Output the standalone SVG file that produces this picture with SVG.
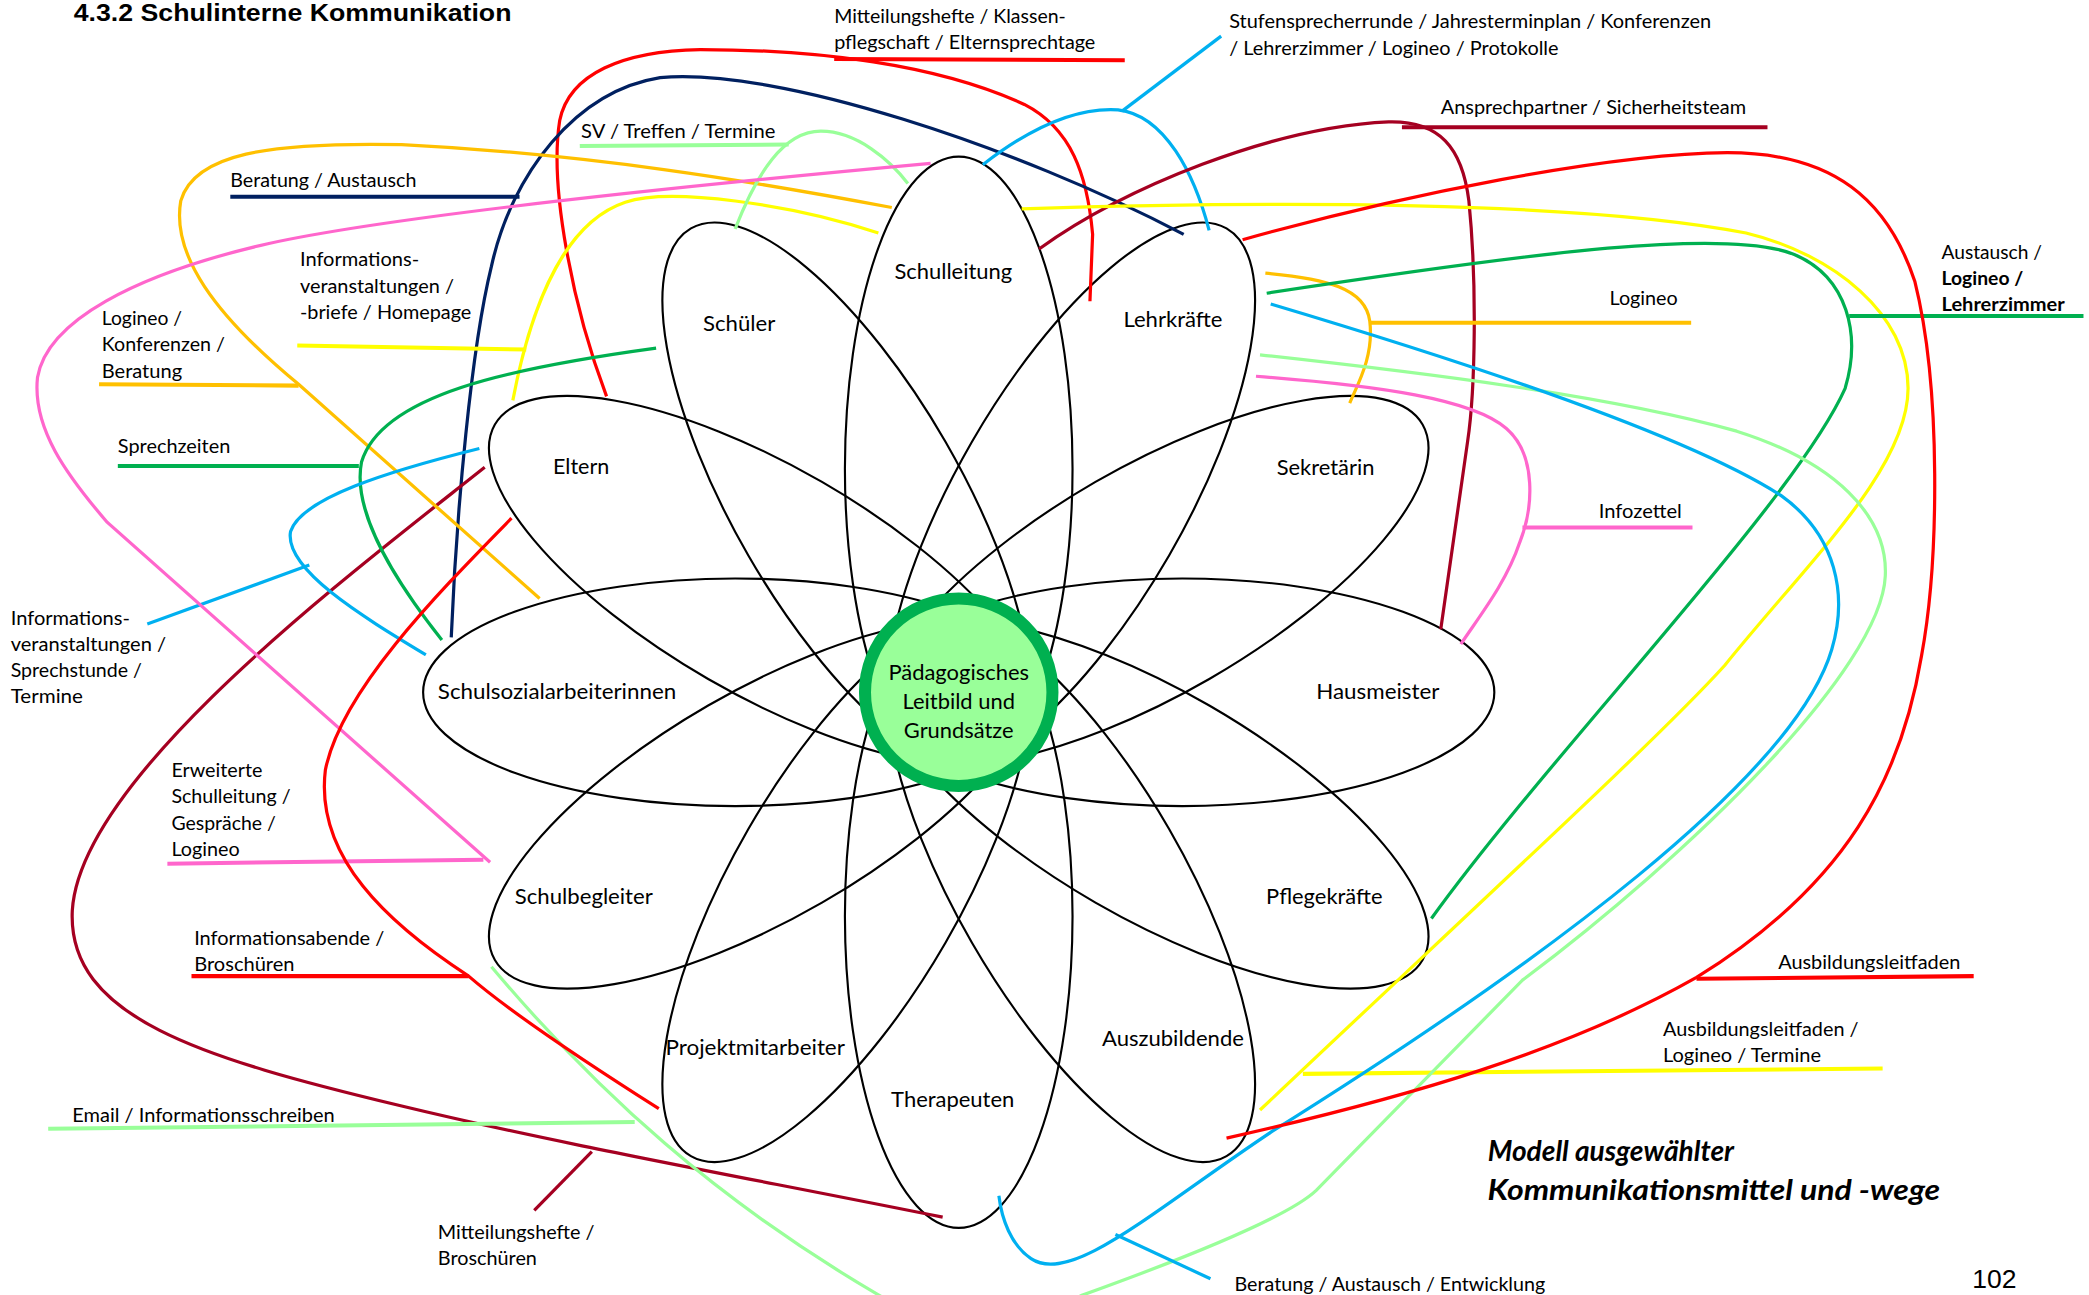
<svg xmlns="http://www.w3.org/2000/svg" width="2089" height="1295" viewBox="0 0 2089 1295">
<style>
.petal{fill:none;stroke:#000;stroke-width:1.6}
.pl{font-family:Lato,"Noto Sans",sans-serif;font-size:16.5px;fill:#000;text-anchor:middle}
.lb{font-family:Lato,"Noto Sans",sans-serif;font-size:14.5px;fill:#000}
.bold{font-weight:bold}
.c{fill:none;stroke-width:2.4}
.u{fill:none;stroke-width:3}
.red{stroke:#FF0000}
.navy{stroke:#002060}
.blue{stroke:#00B0F0}
.maroon{stroke:#A50021}
.orange{stroke:#FFC000}
.yellow{stroke:#FFFF00}
.green{stroke:#00B050}
.lgreen{stroke:#99FF99}
.pink{stroke:#FF66CC}
</style>
<rect width="2089" height="1295" fill="#ffffff"/>
<g transform="scale(1.339)">
<g id="petals">
<g id="node-schulleitung"><ellipse class="petal" cx="716" cy="350" rx="85" ry="233"/><text class="pl" x="712" y="208" textLength="88" lengthAdjust="spacingAndGlyphs">Schulleitung</text></g>
<g id="node-lehrkraefte"><ellipse class="petal" cx="716" cy="350" rx="85" ry="233" transform="rotate(30 716 517)"/><text class="pl" x="876" y="244" textLength="74" lengthAdjust="spacingAndGlyphs">Lehrkräfte</text></g>
<g id="node-sekretaerin"><ellipse class="petal" cx="716" cy="350" rx="85" ry="233" transform="rotate(60 716 517)"/><text class="pl" x="990" y="354.5" textLength="73" lengthAdjust="spacingAndGlyphs">Sekretärin</text></g>
<g id="node-hausmeister"><ellipse class="petal" cx="716" cy="350" rx="85" ry="233" transform="rotate(90 716 517)"/><text class="pl" x="1029" y="522" textLength="92" lengthAdjust="spacingAndGlyphs">Hausmeister</text></g>
<g id="node-pflegekraefte"><ellipse class="petal" cx="716" cy="350" rx="85" ry="233" transform="rotate(120 716 517)"/><text class="pl" x="989" y="675.5" textLength="87" lengthAdjust="spacingAndGlyphs">Pflegekräfte</text></g>
<g id="node-auszubildende"><ellipse class="petal" cx="716" cy="350" rx="85" ry="233" transform="rotate(150 716 517)"/><text class="pl" x="876" y="781" textLength="106" lengthAdjust="spacingAndGlyphs">Auszubildende</text></g>
<g id="node-therapeuten"><ellipse class="petal" cx="716" cy="350" rx="85" ry="233" transform="rotate(180 716 517)"/><text class="pl" x="711.5" y="827" textLength="92" lengthAdjust="spacingAndGlyphs">Therapeuten</text></g>
<g id="node-projektmitarbeiter"><ellipse class="petal" cx="716" cy="350" rx="85" ry="233" transform="rotate(210 716 517)"/><text class="pl" x="564" y="788" textLength="134" lengthAdjust="spacingAndGlyphs">Projektmitarbeiter</text></g>
<g id="node-schulbegleiter"><ellipse class="petal" cx="716" cy="350" rx="85" ry="233" transform="rotate(240 716 517)"/><text class="pl" x="436" y="675.5" textLength="103" lengthAdjust="spacingAndGlyphs">Schulbegleiter</text></g>
<g id="node-schulsozialarbeiterinnen"><ellipse class="petal" cx="716" cy="350" rx="85" ry="233" transform="rotate(270 716 517)"/><text class="pl" x="416" y="522" textLength="178" lengthAdjust="spacingAndGlyphs">Schulsozialarbeiterinnen</text></g>
<g id="node-eltern"><ellipse class="petal" cx="716" cy="350" rx="85" ry="233" transform="rotate(300 716 517)"/><text class="pl" x="434" y="354" textLength="42" lengthAdjust="spacingAndGlyphs">Eltern</text></g>
<g id="node-schueler"><ellipse class="petal" cx="716" cy="350" rx="85" ry="233" transform="rotate(330 716 517)"/><text class="pl" x="552" y="247.5" textLength="54" lengthAdjust="spacingAndGlyphs">Schüler</text></g>
</g>
<g id="connectors">
<path class="c red" d="M453,296 C428,230 410,140 418,90 C425,55 465,38 523,37 C610,37 700,48 765,78 C800,96 812,130 816,175 L814,225"/>
<path class="u red" d="M623,44 L840,45"/>
<path class="c navy" d="M337,476 C341,380 352,260 367,199 C382,130 430,68 493,58 C580,50 760,110 884,175"/>
<path class="u navy" d="M172,147 L388,147"/>
<path class="c blue" d="M734,123 C770,95 805,80 835,82 C870,86 892,130 903,172"/>
<path class="c blue" d="M838,83 L912,27"/>
<path class="c maroon" d="M776,186 C840,140 950,95 1037,91 C1075,90 1092,110 1097,150 C1103,210 1102,290 1096,330 L1076,470"/>
<path class="u maroon" d="M1047,95 L1320,95"/>
<path class="c maroon" d="M362,349 C260,430 60,580 54,680 C50,760 150,790 300,826 C420,855 560,880 704,909"/>
<path class="c maroon" d="M442,860 L399,904"/>
<path class="c orange" d="M666,155 C560,135 440,115 300,108 C200,106 145,115 135,150 C128,190 160,235 223,287 L403,447"/>
<path class="u orange" d="M74,287 L223,288"/>
<path class="c orange" d="M945,204 C990,208 1020,215 1023,240 C1026,265 1015,285 1008,301"/>
<path class="u orange" d="M1023,241 L1263,241"/>
<path class="c yellow" d="M383,299 C398,220 425,165 467,151 C500,140 590,152 656,174"/>
<path class="u yellow" d="M222,258 L393,261"/>
<path class="c yellow" d="M763,156 C950,150 1180,150 1304,174 C1370,190 1425,235 1425,290 C1425,350 1350,420 1288,497 C1240,550 1120,660 941,829"/>
<path class="u yellow" d="M973,802 L1406,798"/>
<path class="c green" d="M490,260 C380,275 285,295 270,345 C262,385 300,440 330,478"/>
<path class="u green" d="M88,348 L268,348"/>
<path class="c green" d="M946,219 C1150,188 1290,170 1340,190 C1380,207 1390,250 1378,290 C1340,375 1160,560 1069,686"/>
<path class="u green" d="M1381,236 L1556,236"/>
<path class="c lgreen" d="M549,171 C565,130 585,98 613,98 C640,98 665,120 678,137"/>
<path class="u lgreen" d="M433,109 L589,108"/>
<path class="c lgreen" d="M941,265 C1060,278 1200,295 1297,322 C1370,345 1410,385 1408,430 C1405,500 1260,640 1137,732 L983,889 C960,911 870,945 809,967 C769,985 696,991 656,967 C536,897 447,817 367,722"/>
<path class="u lgreen" d="M36,843 L474,838"/>
<path class="c blue" d="M358,335 C290,352 225,372 217,397 C212,425 270,460 318,489"/>
<path class="c blue" d="M110,466 L231,422"/>
<path class="c blue" d="M949,227 C1100,272 1260,325 1330,370 C1372,400 1380,445 1368,485 C1340,580 1150,720 950,845 C860,905 800,960 770,940 C755,930 748,910 746,893"/>
<path class="c blue" d="M833,922 L904,955"/>
<path class="c pink" d="M695,122 C520,138 300,160 200,182 C100,205 35,240 28,282 C24,320 50,355 80,390 L366,644"/>
<path class="u pink" d="M125,645 L361,642"/>
<path class="c pink" d="M938,281 C1030,288 1100,298 1125,320 C1148,340 1145,380 1135,405 C1125,435 1105,460 1091,481"/>
<path class="u pink" d="M1137,394 L1264,394"/>
<path class="c red" d="M382,387 C330,440 255,515 243,575 C235,640 290,690 350,729 C380,755 440,795 492,828"/>
<path class="u red" d="M143,729 L350,729"/>
<path class="c red" d="M928,179 C1050,145 1200,115 1290,114 C1370,114 1410,150 1430,210 C1450,290 1448,420 1435,490 C1420,580 1380,660 1267,730 C1170,785 1050,820 916,850"/>
<path class="u red" d="M1267,731 L1474,729"/>
</g>
<g id="node-center">
<circle cx="716" cy="517" r="70" fill="#99FF99" stroke="#00B050" stroke-width="9"/>
<text class="pl" style="font-size:15.5px" x="716" y="508" textLength="105" lengthAdjust="spacingAndGlyphs">Pädagogisches</text>
<text class="pl" style="font-size:15.5px" x="716" y="529.5" textLength="84" lengthAdjust="spacingAndGlyphs">Leitbild und</text>
<text class="pl" style="font-size:15.5px" x="716" y="551" textLength="82" lengthAdjust="spacingAndGlyphs">Grundsätze</text>
</g>
<g id="labels">
<text x="55" y="16" style="font-family:'Liberation Sans',Arial,sans-serif;font-weight:bold;font-size:18px" textLength="327" lengthAdjust="spacingAndGlyphs">4.3.2 Schulinterne Kommunikation</text>
<text class="lb" x="623" y="17" textLength="173" lengthAdjust="spacingAndGlyphs">Mitteilungshefte / Klassen-</text>
<text class="lb" x="623" y="36.5" textLength="195" lengthAdjust="spacingAndGlyphs">pflegschaft / Elternsprechtage</text>
<text class="lb" x="918" y="21" textLength="360" lengthAdjust="spacingAndGlyphs">Stufensprecherrunde / Jahresterminplan / Konferenzen</text>
<text class="lb" x="918" y="41" textLength="246" lengthAdjust="spacingAndGlyphs">/ Lehrerzimmer / Logineo / Protokolle</text>
<text class="lb" x="434" y="103" textLength="145" lengthAdjust="spacingAndGlyphs">SV / Treffen / Termine</text>
<text class="lb" x="172" y="139.5" textLength="139" lengthAdjust="spacingAndGlyphs">Beratung / Austausch</text>
<text class="lb" x="224" y="199" textLength="89" lengthAdjust="spacingAndGlyphs">Informations-</text>
<text class="lb" x="224" y="218.5" textLength="115" lengthAdjust="spacingAndGlyphs">veranstaltungen /</text>
<text class="lb" x="224" y="238" textLength="128" lengthAdjust="spacingAndGlyphs">-briefe / Homepage</text>
<text class="lb" x="76" y="243" textLength="60" lengthAdjust="spacingAndGlyphs">Logineo /</text>
<text class="lb" x="76" y="262.5" textLength="92" lengthAdjust="spacingAndGlyphs">Konferenzen /</text>
<text class="lb" x="76" y="282" textLength="60" lengthAdjust="spacingAndGlyphs">Beratung</text>
<text class="lb" x="88" y="338.5" textLength="84" lengthAdjust="spacingAndGlyphs">Sprechzeiten</text>
<text class="lb" x="8" y="466.5" textLength="89" lengthAdjust="spacingAndGlyphs">Informations-</text>
<text class="lb" x="8" y="486" textLength="116" lengthAdjust="spacingAndGlyphs">veranstaltungen /</text>
<text class="lb" x="8" y="505.5" textLength="98" lengthAdjust="spacingAndGlyphs">Sprechstunde /</text>
<text class="lb" x="8" y="525" textLength="54" lengthAdjust="spacingAndGlyphs">Termine</text>
<text class="lb" x="128" y="580.5" textLength="68" lengthAdjust="spacingAndGlyphs">Erweiterte</text>
<text class="lb" x="128" y="600" textLength="89" lengthAdjust="spacingAndGlyphs">Schulleitung /</text>
<text class="lb" x="128" y="619.5" textLength="78" lengthAdjust="spacingAndGlyphs">Gespräche /</text>
<text class="lb" x="128" y="639" textLength="51" lengthAdjust="spacingAndGlyphs">Logineo</text>
<text class="lb" x="145" y="705.5" textLength="142" lengthAdjust="spacingAndGlyphs">Informationsabende /</text>
<text class="lb" x="145" y="725" textLength="75" lengthAdjust="spacingAndGlyphs">Broschüren</text>
<text class="lb" x="54" y="838" textLength="196" lengthAdjust="spacingAndGlyphs">Email / Informationsschreiben</text>
<text class="lb" x="327" y="925.5" textLength="117" lengthAdjust="spacingAndGlyphs">Mitteilungshefte /</text>
<text class="lb" x="327" y="945" textLength="74" lengthAdjust="spacingAndGlyphs">Broschüren</text>
<text class="lb" x="922" y="964.5" textLength="232" lengthAdjust="spacingAndGlyphs">Beratung / Austausch / Entwicklung</text>
<text class="lb" x="1076" y="85" textLength="228" lengthAdjust="spacingAndGlyphs">Ansprechpartner / Sicherheitsteam</text>
<text class="lb" x="1202" y="227.5" textLength="51" lengthAdjust="spacingAndGlyphs">Logineo</text>
<text class="lb" x="1450" y="193.5" textLength="75" lengthAdjust="spacingAndGlyphs">Austausch /</text>
<text class="lb bold" x="1450" y="213" textLength="61" lengthAdjust="spacingAndGlyphs">Logineo /</text>
<text class="lb bold" x="1450" y="232.5" textLength="92" lengthAdjust="spacingAndGlyphs">Lehrerzimmer</text>
<text class="lb" x="1194" y="387" textLength="62" lengthAdjust="spacingAndGlyphs">Infozettel</text>
<text class="lb" x="1328" y="723.5" textLength="136" lengthAdjust="spacingAndGlyphs">Ausbildungsleitfaden</text>
<text class="lb" x="1242" y="774" textLength="146" lengthAdjust="spacingAndGlyphs">Ausbildungsleitfaden /</text>
<text class="lb" x="1242" y="793" textLength="118" lengthAdjust="spacingAndGlyphs">Logineo / Termine</text>
<text class="lb" x="1111" y="867" style="font-size:21px;font-weight:bold;font-style:italic" textLength="184" lengthAdjust="spacingAndGlyphs">Modell ausgewählter</text>
<text class="lb" x="1111" y="896.5" style="font-size:21px;font-weight:bold;font-style:italic" textLength="338" lengthAdjust="spacingAndGlyphs">Kommunikationsmittel und -wege</text>
<text x="1473" y="962" style="font-family:'Liberation Sans',Arial,sans-serif;font-size:19px" textLength="33" lengthAdjust="spacingAndGlyphs">102</text>
</g>
</g>
</svg>
